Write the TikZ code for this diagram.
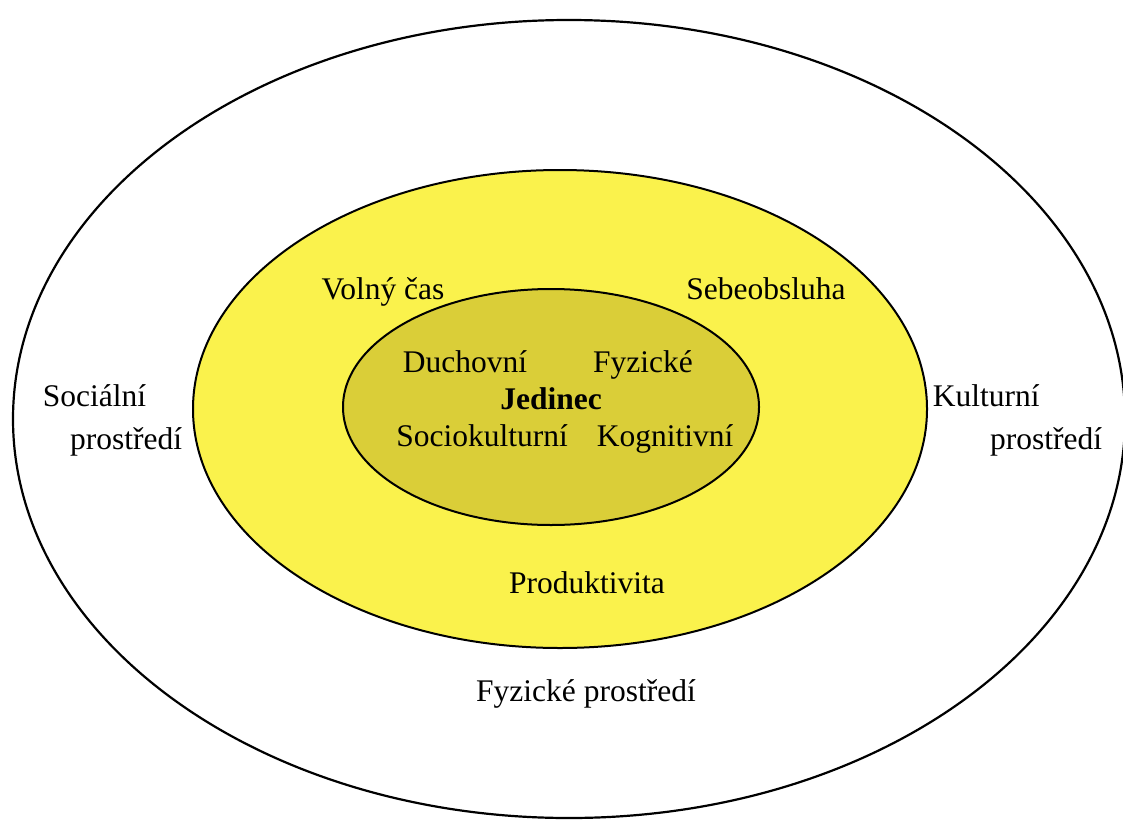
\documentclass[tikz,border=0pt]{standalone}
\usepackage{fontspec}
\setmainfont{Liberation Serif}
\definecolor{ringyellow}{RGB}{250,242,76}
\definecolor{coreyellow}{RGB}{218,206,56}
\tikzset{
  lbl/.style={inner sep=0.75pt, text height=0.68em, text depth=0.22em, font=\fontsize{31.5}{36}\selectfont},
}
\begin{document}
\begin{tikzpicture}[x=1pt,y=1pt,yscale=-1,xscale=1]
\useasboundingbox (0,0) rectangle (1123,819);

%Shape: Ellipse [outer ring]
\draw [line width=2.2pt]  (569,419) ellipse [x radius=556, y radius=399];
%Shape: Ellipse [middle ring]
\draw [line width=2pt, fill=ringyellow]  (560,409) ellipse [x radius=367, y radius=239];
%Shape: Ellipse [core]
\draw [line width=2pt, fill=coreyellow]  (551,407) ellipse [x radius=208, y radius=118];

% Text Node
\node (volny) at (383,297) [lbl] {Volný čas};
% Text Node
\node (sebe) at (766,297) [lbl] {Sebeobsluha};
% Text Node
\node (duch) at (465,370) [lbl] {Duchovní};
% Text Node
\node (fyz) at (643,370) [lbl] {Fyzické};
% Text Node
\node (jed) at (551,407) [lbl, font=\fontsize{31.5}{36}\selectfont\bfseries] {Jedinec};
% Text Node
\node (socio) at (482,444) [lbl] {Sociokulturní};
% Text Node
\node (kogn) at (665,444) [lbl] {Kognitivní};
% Text Node
\node (prod) at (587,591) [lbl] {Produktivita};
% Text Node
\node (fyzpr) at (586,699) [lbl] {Fyzické prostředí};
% Text Node
\node (soc) at (42,404) [lbl, anchor=west] {Sociální};
% Text Node
\node (socpr) at (183,447) [lbl, anchor=east] {prostředí};
% Text Node
\node (kult) at (932,404) [lbl, anchor=west] {Kulturní};
% Text Node
\node (kultpr) at (1103,447) [lbl, anchor=east] {prostředí};
\end{tikzpicture}
\end{document}
